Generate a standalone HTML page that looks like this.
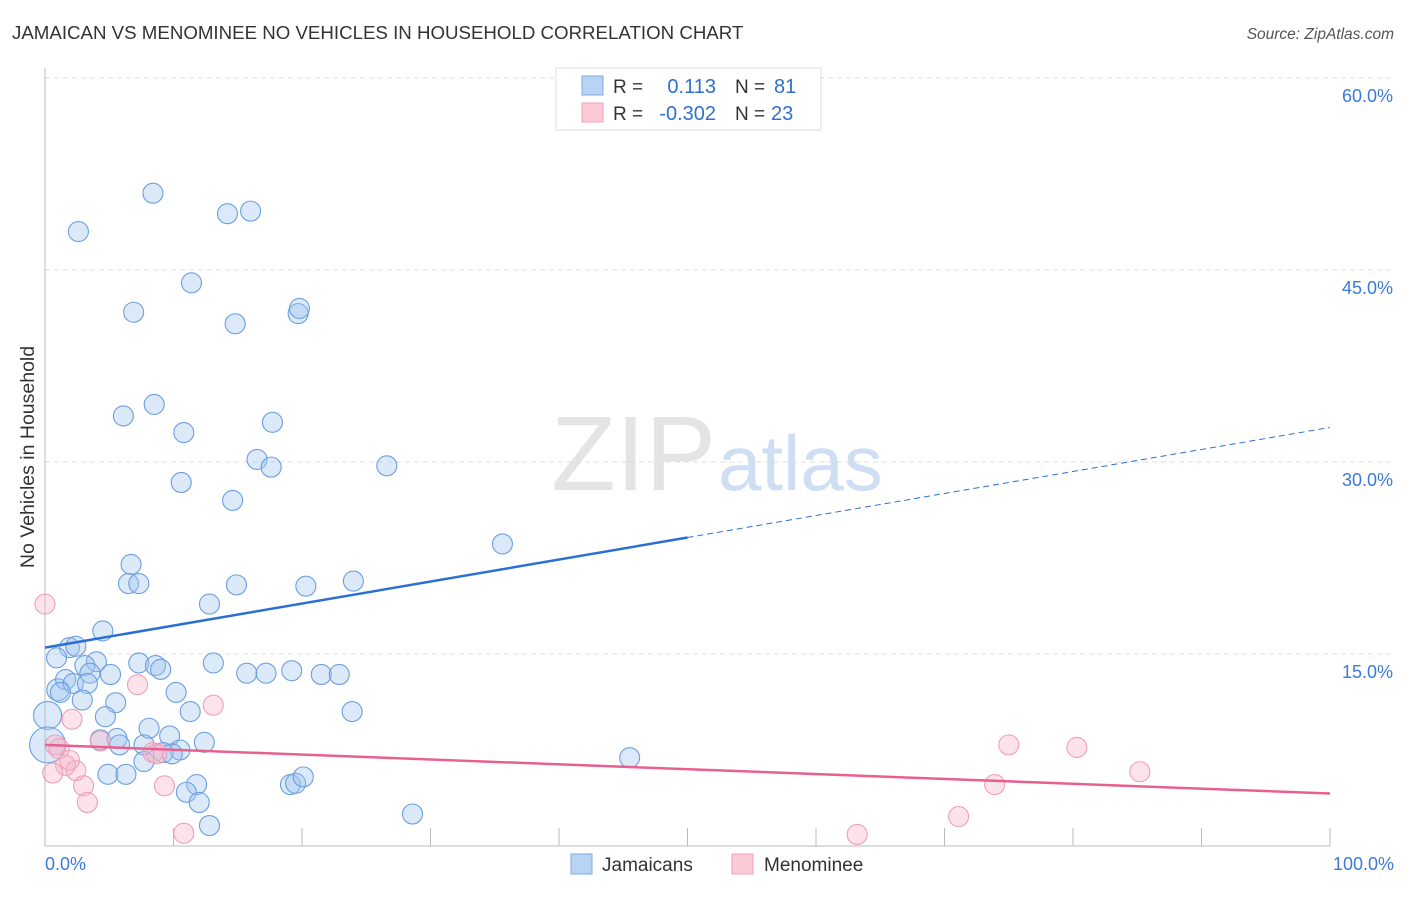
<!DOCTYPE html>
<html><head><meta charset="utf-8"><style>
body{margin:0;background:#fff;font-family:"Liberation Sans",sans-serif}
svg text{font-family:"Liberation Sans",sans-serif}
</style></head><body>
<svg id="c" width="1406" height="892" xmlns="http://www.w3.org/2000/svg">
<text x="12" y="39" font-size="18.7" fill="#333">JAMAICAN VS MENOMINEE NO VEHICLES IN HOUSEHOLD CORRELATION CHART</text>
<text x="1394" y="39" font-size="15.5" fill="#555" font-style="italic" text-anchor="end">Source: ZipAtlas.com</text>
<text x="34" y="457" font-size="19.5" fill="#333" text-anchor="middle" transform="rotate(-90 34 457)">No Vehicles in Household</text>
<text x="716" y="490" font-size="106" fill="#e4e4e4" text-anchor="end" font-family="Liberation Serif">ZIP</text>
<text x="718" y="490" font-size="78" fill="#cfdff3">atlas</text>
<g id="grid"></g><g id="pts"></g><g id="lines"></g>
<g>
<rect x="556" y="68" width="265" height="62" fill="#fff" stroke="#ddd"/>
<rect x="582" y="76" width="21" height="19" fill="#b9d3f5" stroke="#7ea9e0"/>
<rect x="582" y="103" width="21" height="19" fill="#fcc9d7" stroke="#f0a0b8"/>
<text x="613" y="93" font-size="19" fill="#333">R =</text><text x="716" y="93" font-size="20" fill="#2f6fd0" text-anchor="end">0.113</text>
<text x="735" y="93" font-size="19" fill="#333">N =</text><text x="774" y="93" font-size="20" fill="#2f6fd0">81</text>
<text x="613" y="120" font-size="19" fill="#333">R =</text><text x="716" y="120" font-size="20" fill="#2f6fd0" text-anchor="end">-0.302</text>
<text x="735" y="120" font-size="19" fill="#333">N =</text><text x="771" y="120" font-size="20" fill="#2f6fd0">23</text>
</g>
<g>
<rect x="571" y="854" width="21" height="20" fill="#b9d3f5" stroke="#7ea9e0"/>
<text x="602" y="871" font-size="19" fill="#333">Jamaicans</text>
<rect x="732" y="854" width="21" height="20" fill="#fcc9d7" stroke="#f0a0b8"/>
<text x="764" y="871" font-size="19" fill="#333">Menominee</text>
</g>
</svg>
<script>
const yTicks=[15,30,45,60];
const yTickLabels=["15.0%","30.0%","45.0%","60.0%"];
const xTickLabels=["0.0%","100.0%"];
const jamX=[2.6,8.4,14.2,16.0,11.4,6.9,14.8,19.7,19.8,6.1,8.5,10.8,17.7,16.5,17.6,26.6,10.6,14.6,35.6,6.7,6.5,7.3,14.9,20.3,24.0,12.8,4.5,1.9,2.4,0.9,4.0,3.1,7.3,8.6,9.0,13.1,3.5,5.1,15.7,17.2,19.2,21.5,22.9,1.0,1.6,2.2,1.2,3.3,2.9,10.2,5.5,11.3,4.7,23.9,0.2,8.1,4.3,5.6,5.8,7.7,9.7,10.5,9.2,9.9,12.4,45.5,7.7,4.9,6.3,11.8,11.0,12.0,19.1,19.5,20.1,28.6,12.8,0.2];
const jamY=[48.0,51.0,49.4,49.6,44.0,41.7,40.8,41.6,42.0,33.6,34.5,32.3,33.1,30.2,29.6,29.7,28.4,27.0,23.6,22.0,20.5,20.5,20.4,20.3,20.7,18.9,16.8,15.5,15.6,14.7,14.4,14.1,14.3,14.1,13.8,14.3,13.5,13.4,13.5,13.5,13.7,13.4,13.4,12.2,13.0,12.7,12.0,12.7,11.4,12.0,11.2,10.5,10.1,10.5,10.2,9.2,8.3,8.4,7.9,7.9,8.6,7.5,7.3,7.2,8.1,6.9,6.6,5.6,5.6,4.8,4.2,3.4,4.8,4.9,5.4,2.5,1.6,7.9];
const jamR=[10,10,10,10,10,10,10,10,10,10,10,10,10,10,10,10,10,10,10,10,10,10,10,10,10,10,10,10,10,10,10,10,10,10,10,10,10,10,10,10,10,10,10,11,10,10,10,10,10,10,10,10,10,10,14,10,10,10,10,10,10,10,10,10,10,10,10,10,10,10,10,10,10,10,10,10,10,18];
const menX=[0.0,7.2,13.1,2.1,0.8,1.1,4.3,8.4,8.7,1.6,2.4,0.6,3.0,9.3,3.3,10.8,75.0,80.3,85.2,73.9,71.1,63.2,1.9];
const menY=[18.9,12.6,11.0,9.9,7.9,7.6,8.2,7.3,7.2,6.3,5.9,5.7,4.7,4.7,3.4,1.0,7.9,7.7,5.8,4.8,2.3,0.9,6.7];
const jamTrend=[15.5,32.7], menTrend=[7.9,4.1];
const NS="http://www.w3.org/2000/svg";
const X=v=>45+v*12.85, Y=v=>846-v*12.8;
function mk(t,a,p){const e=document.createElementNS(NS,t);for(const k in a)e.setAttribute(k,a[k]);p.appendChild(e);return e;}
const grid=document.getElementById('grid'),pts=document.getElementById('pts'),lines=document.getElementById('lines');
yTicks.forEach((t,i)=>{
 const l=mk('line',{x1:45,x2:1395,y1:Y(t),y2:Y(t),stroke:'#ddd','stroke-dasharray':'5,4'},grid);
 
 
 const tx=mk('text',{x:1393,y:Y(t)+24,'font-size':18,fill:'#3b7ad8','text-anchor':'end'},grid);tx.textContent=yTickLabels[i];
 
 
});
const ax=mk('line',{x1:45,x2:45,y1:68,y2:846,stroke:'#bbb'},grid);


const bx=mk('line',{x1:45,x2:1330,y1:846,y2:846,stroke:'#bbb'},grid);


for(let i=1;i<=10;i++){const t=mk('line',{x1:X(i*10),x2:X(i*10),y1:828,y2:846,stroke:'#bbb'},grid);
 
 }
[[0,'start',45],[100,'end',1394]].forEach((d,i)=>{const t=mk('text',{x:d[2],y:870,'font-size':18,fill:'#3b7ad8','text-anchor':d[1]},grid);t.textContent=xTickLabels[i];
 
 });
jamX.forEach((v,i)=>{const c=mk('circle',{cx:X(v),cy:Y(jamY[i]),r:jamR[i],fill:'rgba(160,197,240,0.38)',stroke:'#6a9ee0','stroke-width':1.1},pts);
 
 });
menX.forEach((v,i)=>{const c=mk('circle',{cx:X(v),cy:Y(menY[i]),r:10,fill:'rgba(248,180,202,0.38)',stroke:'#ef9fb9','stroke-width':1.1},pts);
 
 });
const jy=x=>jamTrend[0]+(jamTrend[1]-jamTrend[0])*x/100;
const l1=mk('line',{x1:X(0),y1:Y(jy(0)),x2:X(50),y2:Y(jy(50)),stroke:'#2a6fd6','stroke-width':2.5},lines);


const l2=mk('line',{x1:X(50),y1:Y(jy(50)),x2:X(100),y2:Y(jy(100)),stroke:'#2a6fd6','stroke-width':1,'stroke-dasharray':'6,4'},lines);


const l3=mk('line',{x1:X(0),y1:Y(menTrend[0]),x2:X(100),y2:Y(menTrend[1]),stroke:'#e8608e','stroke-width':2.5},lines);


</script>
</body></html>
